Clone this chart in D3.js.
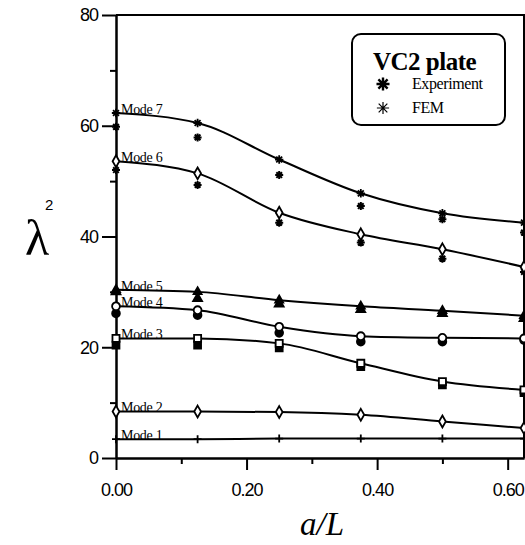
<!DOCTYPE html>
<html>
<head>
<meta charset="utf-8">
<script src="https://cdn.jsdelivr.net/npm/d3@7"></script>
<style>
  body { margin: 0; background: #fff; }
  .tick text { font-family: "Liberation Sans", Arial, sans-serif; font-size: 18px; letter-spacing: -1px; fill: #000; }
</style>
</head>
<body>
<div id="chart"></div>
<script>

// a/L positions of the computed / measured points
const aL = [0, 0.125, 0.25, 0.375, 0.5, 0.625];

// FEM values (the curves pass through these)
const fem1 = [3.4, 3.4, 3.5, 3.5, 3.5, 3.5];
const fem2 = [8.4, 8.4, 8.3, 7.8, 6.6, 5.4];
const fem3 = [21.6, 21.6, 20.7, 17.1, 13.8, 12.3];
const fem4 = [27.4, 26.7, 23.7, 22.0, 21.7, 21.6];
const fem5 = [30.4, 30.0, 28.5, 27.4, 26.6, 25.7];
const fem6 = [53.6, 51.4, 44.3, 40.4, 37.7, 34.5];
const fem7 = [62.3, 60.5, 53.9, 47.8, 44.2, 42.5];

// experiment values
const exp3 = [20.4, 20.4, 19.9, 16.5, 13.2, 11.8];
const exp4 = [26.1, 25.8, 22.6, 21.0, 21.0, 21.3];
const exp5 = [30.0, 28.8, 27.8, 26.8, 26.1, 25.2];
const exp6 = [52.0, 49.3, 42.5, 38.9, 36.0, 33.6];
const exp7 = [59.8, 57.9, 51.1, 45.5, 43.1, 40.7];

const modeNames = ["Mode 1", "Mode 2", "Mode 3", "Mode 4", "Mode 5", "Mode 6", "Mode 7"];
const xTicks = [0, 0.2, 0.4, 0.6];
const xMinor = [0.1, 0.3, 0.5];
const yTicks = [0, 20, 40, 60, 80];
const yMinor = [10, 30, 50, 70];

const width = 525, height = 545;
const margin = { top: 15, right: 1, bottom: 87, left: 116 };

const svg = d3.select("#chart")
  .append("svg")
  .attr("width", width)
  .attr("height", height);

const xScale = d3.scaleLinear()
  .domain([0, 0.625])
  .range([margin.left, width - margin.right]);

const yScale = d3.scaleLinear()
  .domain([0, 80])
  .range([height - margin.bottom, margin.top]);

// 8 armed asterisk used for the experiment points
const asterisk8 = {
  draw(ctx, size) {
    const r = Math.sqrt(size) / 2;
    for (let i = 0; i < 4; i++) {
      const a = i * Math.PI / 4;
      ctx.moveTo(-r * Math.cos(a), -r * Math.sin(a));
      ctx.lineTo(r * Math.cos(a), r * Math.sin(a));
    }
  }
};
// plus sign for mode 1
const plus = {
  draw(ctx, size) {
    const r = Math.sqrt(size) / 2;
    ctx.moveTo(-r, 0); ctx.lineTo(r, 0);
    ctx.moveTo(0, -r); ctx.lineTo(0, r);
  }
};

// one entry per mode: fem curve values, experiment values, marker styles
const modes = [
  { fem: fem1, exp: null, femSym: plus, femSize: 64, femFill: "none" },
  { fem: fem2, exp: null, femSym: d3.symbolDiamond, femSize: 40, femFill: "#fff" },
  { fem: fem3, exp: exp3, femSym: d3.symbolSquare, femSize: 50, femFill: "#fff", expSym: d3.symbolSquare, expSize: 45, expFill: "#000" },
  { fem: fem4, exp: exp4, femSym: d3.symbolCircle, femSize: 48, femFill: "#fff", expSym: d3.symbolCircle, expSize: 45, expFill: "#000" },
  { fem: fem5, exp: exp5, femSym: d3.symbolTriangle, femSize: 28, femFill: "#000", expSym: d3.symbolTriangle, expSize: 32, expFill: "#000" },
  { fem: fem6, exp: exp6, femSym: d3.symbolDiamond, femSize: 40, femFill: "#fff", expSym: asterisk8, expSize: 64, expFill: "none" },
  { fem: fem7, exp: exp7, femSym: asterisk8, femSize: 70, femFill: "none", expSym: asterisk8, expSize: 64, expFill: "none" }
];

// frame: top and right edges
svg.append("path")
  .attr("d", `M${xScale(0)},${yScale(80)}H${xScale(0.625)}V${yScale(0)}`)
  .attr("fill", "none")
  .attr("stroke", "#000")
  .attr("stroke-width", 2);

// axes
svg.append("g")
  .attr("transform", `translate(0,${yScale(0)})`)
  .call(d3.axisBottom(xScale).tickValues(xTicks).tickFormat(d3.format(".2f"))
    .tickSize(12).tickPadding(13).tickSizeOuter(0));
svg.append("g")
  .attr("transform", `translate(0,${yScale(0)})`)
  .call(d3.axisBottom(xScale).tickValues(xMinor).tickFormat("").tickSize(6).tickSizeOuter(0));

svg.append("g")
  .attr("transform", `translate(${xScale(0)},0)`)
  .call(d3.axisLeft(yScale).tickValues(yTicks).tickFormat(d3.format("d"))
    .tickSize(14).tickPadding(4).tickSizeOuter(0));
svg.append("g")
  .attr("transform", `translate(${xScale(0)},0)`)
  .call(d3.axisLeft(yScale).tickValues(yMinor).tickFormat("").tickSize(6).tickSizeOuter(0));

svg.selectAll(".domain, .tick line").attr("stroke", "#000").attr("stroke-width", 2);
svg.selectAll(".tick text").attr("font-size", null).attr("font-family", null);

// curves through the FEM values
const line = d3.line()
  .x((d, i) => xScale(aL[i]))
  .y(d => yScale(d))
  .curve(d3.curveMonotoneX);

svg.append("g")
  .selectAll("path")
  .data(modes)
  .enter()
  .append("path")
    .attr("d", d => line(d.fem))
    .attr("fill", "none")
    .attr("stroke", "#000")
    .attr("stroke-width", 2);

// experiment markers
modes.forEach((m) => {
  if (!m.exp) return;
  svg.append("g")
    .selectAll("path")
    .data(m.exp)
    .enter()
    .append("path")
      .attr("transform", (d, i) => `translate(${xScale(aL[i])},${yScale(d)})`)
      .attr("d", d3.symbol().type(m.expSym).size(m.expSize))
      .attr("fill", m.expFill)
      .attr("stroke", "#000")
      .attr("stroke-width", 2);
});

// FEM markers
modes.forEach((m) => {
  svg.append("g")
    .selectAll("path")
    .data(m.fem)
    .enter()
    .append("path")
      .attr("transform", (d, i) => `translate(${xScale(aL[i])},${yScale(d)})`)
      .attr("d", d3.symbol().type(m.femSym).size(m.femSize))
      .attr("fill", m.femFill)
      .attr("stroke", "#000")
      .attr("stroke-width", 1.8);
});

// mode labels sit on the curve start
svg.append("g")
  .selectAll("text")
  .data(modes)
  .enter()
  .append("text")
    .attr("x", xScale(0) + 5)
    .attr("y", (d) => yScale(d.fem[0]) + 1)
    .attr("font-family", "'Liberation Serif', 'Times New Roman', serif")
    .attr("font-size", "14px")
    .attr("letter-spacing", "-0.3px")
    .text((d, i) => modeNames[i]);

// axis titles
svg.append("text")
  .attr("x", 300)
  .attr("y", 535)
  .attr("font-family", "'Liberation Serif', 'Times New Roman', serif")
  .attr("font-style", "italic")
  .attr("font-size", "33px")
  .text("a/L");

svg.append("text")
  .attr("x", 25)
  .attr("y", 255)
  .attr("font-family", "'Liberation Serif', 'Times New Roman', serif")
  .attr("font-size", "50px")
  .text("λ");
svg.append("text")
  .attr("x", 45)
  .attr("y", 210)
  .attr("font-family", "'Liberation Sans', Arial, sans-serif")
  .attr("font-size", "15px")
  .text("2");

// legend
const legend = svg.append("g");
legend.append("rect")
  .attr("x", 352).attr("y", 34)
  .attr("width", 153).attr("height", 91)
  .attr("rx", 9)
  .attr("fill", "#fff")
  .attr("stroke", "#000")
  .attr("stroke-width", 2);
legend.append("text")
  .attr("x", 373).attr("y", 70)
  .attr("font-family", "'Liberation Serif', 'Times New Roman', serif")
  .attr("font-weight", "bold")
  .attr("font-size", "25px")
  .attr("letter-spacing", "-0.5px")
  .text("VC2 plate");
legend.append("path")
  .attr("transform", "translate(383,84)")
  .attr("d", d3.symbol().type(asterisk8).size(170))
  .attr("fill", "none").attr("stroke", "#000").attr("stroke-width", 2.4);
legend.append("path")
  .attr("transform", "translate(383,108)")
  .attr("d", d3.symbol().type(asterisk8).size(150))
  .attr("fill", "none").attr("stroke", "#000").attr("stroke-width", 1.2);
legend.append("text")
  .attr("x", 412).attr("y", 89)
  .attr("font-family", "'Liberation Serif', 'Times New Roman', serif")
  .attr("font-size", "16px")
  .attr("letter-spacing", "-0.4px")
  .text("Experiment");
legend.append("text")
  .attr("x", 412).attr("y", 113)
  .attr("font-family", "'Liberation Serif', 'Times New Roman', serif")
  .attr("font-size", "16px")
  .attr("letter-spacing", "-0.4px")
  .text("FEM");

</script>
</body>
</html>
